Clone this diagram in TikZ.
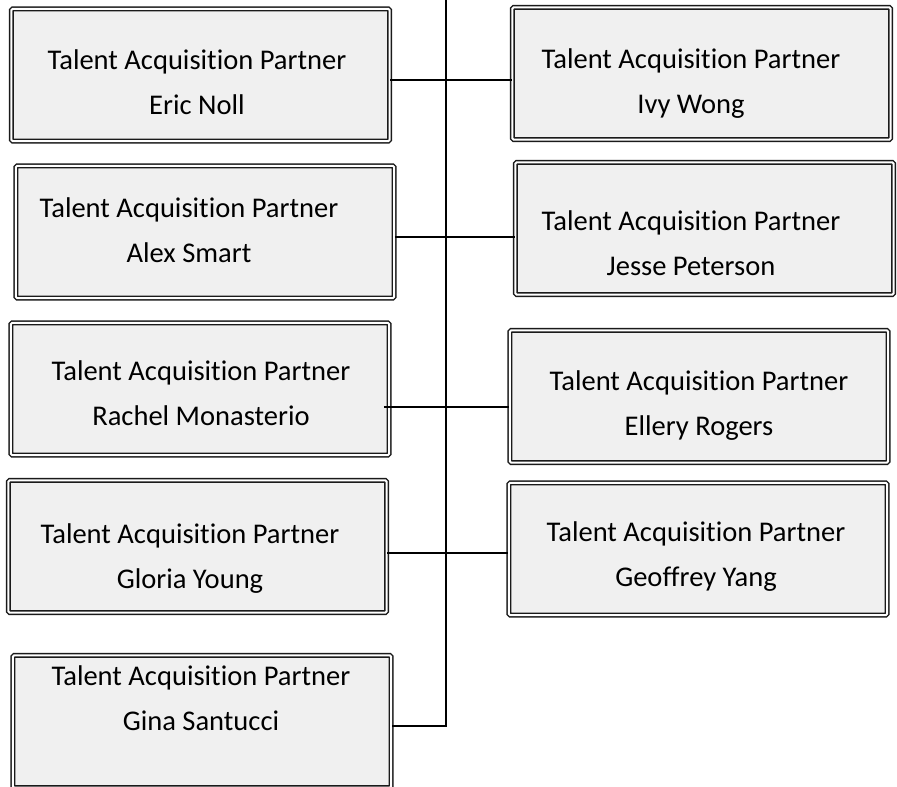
\documentclass[tikz,border=0pt]{standalone}
\usepackage{fontspec}
\setmainfont{Carlito}[Ligatures={NoCommon}]
\usetikzlibrary{calc}
\definecolor{boxfill}{HTML}{F0F0F0}
\definecolor{boxline}{HTML}{1A1A1A}
\newcommand{\tapartner}[1]{\strut Talent Acquisition Partner\\\strut #1}

\begin{document}
\begin{tikzpicture}[x=0.75pt, y=-0.75pt,
            partner/.style={draw=boxline, 
            fill=boxfill, 
            double=white, 
            double distance=1.5pt, 
            line width=1.1pt, 
            rounded corners=1pt,
            minimum width=283.7pt, 
            minimum height=99.2pt,
            inner sep=0pt},
            title/.style={align=center, 
            text=black, 
            inner sep=0pt,
            font=\fontsize{21.4}{33.75}\selectfont},
            link/.style={line width=2.2pt, black}]
            \useasboundingbox (0,0) rectangle (897,787);
            % left column
            \node[partner] at (200.5,75) (noll) {};
            \node[partner] at (205,232) (smart) {};
            \node[partner] at (200,389) (monasterio) {};
            \node[partner] at (197.5,546.5) (young) {};
            \node[partner] at (202,721.5) (santucci) {};
            % right column
            \node[partner] at (701.5,73.5) (wong) {};
            \node[partner] at (704.5,228.5) (peterson) {};
            \node[partner] at (699,396.5) (rogers) {};
            \node[partner] at (698,549) (yang) {};
            % titles
            \node[title] at (197,83) (nollText) {\tapartner{Eric Noll}};
            \node[title] at (189,231) (smartText) {\tapartner{Alex Smart}};
            \node[title] at (201,394.5) (monasterioText) {\tapartner{Rachel Monasterio}};
            \node[title] at (190,557.5) (youngText) {\tapartner{Gloria Young}};
            \node[title] at (201,699.5) (santucciText) {\tapartner{Gina Santucci}};
            \node[title] at (691,82.5) (wongText) {\tapartner{Ivy Wong}};
            \node[title] at (691,244.5) (petersonText) {\tapartner{Jesse Peterson}};
            \node[title] at (699,404.5) (rogersText) {\tapartner{Ellery Rogers}};
            \node[title] at (696,555.5) (yangText) {\tapartner{Geoffrey Yang}};
            % spine and links
            \coordinate (spinetop) at (446,-5);
            \coordinate (j1) at (446,80);
            \coordinate (j2) at (446,237);
            \coordinate (j3) at (446,407);
            \coordinate (j4) at (446,553);
            \coordinate (j5) at (446,726);
            \draw[link] (spinetop) -- (j5) -- (santucci.east |- j5);
            \draw[link] (noll.east |- j1) -- (wong.west |- j1);
            \draw[link] (smart.east |- j2) -- (peterson.west |- j2);
            \draw[link] ($(monasterio.east |- j3)+(-6,0)$) -- (rogers.west |- j3);
            \draw[link] (young.east |- j4) -- (yang.west |- j4);
        \end{tikzpicture}
\end{document}
